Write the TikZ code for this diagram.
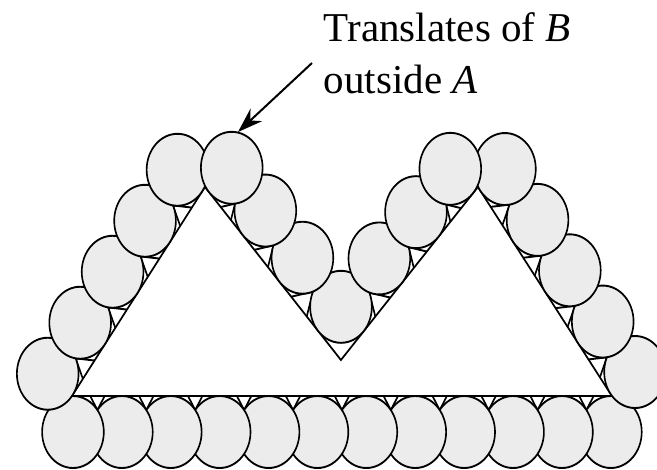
\documentclass[tikz,border=0pt]{standalone}
\usepackage{fontspec}
\setmainfont{Liberation Serif}
\usetikzlibrary{calc, arrows.meta}

% 隣り合う円の間の小さな三角形（辺 #1--#2 上, 接点 #3, #4）
\newcommand\gapmark[4]{%
  \pgfmathsetmacro\gm{(#3+#4)/2}%
  \pgfmathsetmacro\gd{36-sqrt(36^2-((#4-#3)/2)^2)}%
  \pgfmathsetmacro\ga{\gm-0.6*\gd}%
  \pgfmathsetmacro\gb{\gm+0.6*\gd}%
  \draw ($(#1)!\ga pt!(#2)$) -- ($(#1)!\gm pt!(#2)!\gd pt!90:(#2)$) -- ($(#1)!\gb pt!(#2)$);%
}

\begin{document}
\begin{tikzpicture}[
    x=1pt, y=-1pt,          % 1pt = 1px, 下向きに y
    line width=1.9pt,
    >={Stealth[length=25pt, width=17pt]},
    ball/.style={fill=gray!15, draw},
    lbl/.style={font=\fontsize{41}{52}\selectfont, align=left, inner sep=0pt}
]

    \useasboundingbox (0,0) rectangle (657,470);

    % --- 図形 A と円 B（横方向を 0.857 倍に縮める）---
    \begin{pgfinterruptboundingbox}
    \begin{scope}[transform canvas={xscale=0.857}]
        \coordinate (bl) at (84,396);
        \coordinate (tl) at (239.17,187);
        \coordinate (v)  at (397.83,360);
        \coordinate (tr) at (557.67,187);
        \coordinate (br) at (714,396);

        \draw (bl) -- (tl) -- (v) -- (tr) -- (br) -- cycle;

        % 円の中心（辺から 36 だけ外側）
        \foreach \pos [count=\i] in {1,64.5,128,191.5,255}
            \coordinate (l\i) at ($(bl)!\pos pt!(tl)!36pt!90:(tl)$);
        \foreach \pos [count=\i] in {7,65,129,195.6}
            \coordinate (m\i) at ($(tl)!\pos pt!(v)!36pt!90:(v)$);
        \foreach \pos [count=\i] in {105,168,227}
            \coordinate (n\i) at ($(v)!\pos pt!(tr)!36pt!90:(tr)$);
        \foreach \pos [count=\i] in {4.5,68,131,195,258}
            \coordinate (r\i) at ($(tr)!\pos pt!(br)!36pt!90:(br)$);
        \foreach \i in {0,...,11} {
            \pgfmathsetmacro\pos{1.2+57.06*\i}
            \coordinate (b\i) at ($(br)!\pos pt!(bl)!36pt!90:(bl)$);
        }

        % 小三角形
        \foreach \ta/\tb in {1/64.5,64.5/128,128/191.5,191.5/255} {\gapmark{bl}{tl}{\ta}{\tb}}
        \foreach \ta/\tb in {7/65,65/129,129/195.6} {\gapmark{tl}{v}{\ta}{\tb}}
        \foreach \ta/\tb in {39.1/105,105/168,168/227} {\gapmark{v}{tr}{\ta}{\tb}}
        \foreach \ta/\tb in {4.5/68,68/131,131/195,195/258} {\gapmark{tr}{br}{\ta}{\tb}}
        \foreach \i in {0,...,10} {
            \pgfmathsetmacro\ta{1.2+57.06*\i}
            \pgfmathsetmacro\tb{\ta+57.06}
            \gapmark{br}{bl}{\ta}{\tb}
        }

        % 円（後に描いたものが上になる）
        \foreach \c in {b0,b1,b2,b3,b4,b5,b6,b7,b8,b9,b10,b11,r5,r4,r3,r2,r1,l1,l2,l3,l4,l5,m4,m3,m2,m1,n1,n2,n3}
            \path[ball] (\c) circle (36pt);
    \end{scope}
    \end{pgfinterruptboundingbox}

    % --- ラベルと矢印 ---
    \node [lbl, anchor=north west] (label) at (323,11.6) {Translates of \textit{B}\\outside \textit{A}};
    \coordinate (tail) at (312,63);
    \coordinate (tip) at (238,132);
    \draw [->, line width=2pt] (tail) -- (tip);

\end{tikzpicture}
\end{document}
